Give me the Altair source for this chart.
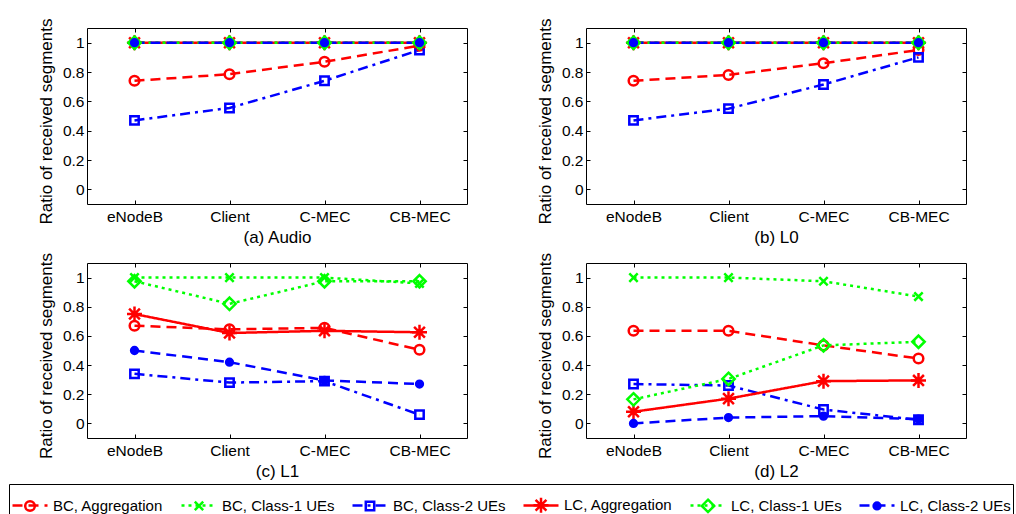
import altair as alt
import pandas as pd

categories = ["eNodeB", "Client", "C-MEC", "CB-MEC"]
series_names = ["BC, Aggregation", "BC, Class-1 UEs", "BC, Class-2 UEs",
                "LC, Aggregation", "LC, Class-1 UEs", "LC, Class-2 UEs"]
panel_titles = ["(a) Audio", "(b) L0", "(c) L1", "(d) L2"]
y_ticks = [0, 0.2, 0.4, 0.6, 0.8, 1]

# (a) Audio
audio_bc_agg = [0.74, 0.785, 0.87, 0.98]
audio_bc_c1 = [1.0, 1.0, 1.0, 1.0]
audio_bc_c2 = [0.47, 0.555, 0.74, 0.95]
audio_lc_agg = [1.0, 1.0, 1.0, 1.0]
audio_lc_c1 = [1.0, 1.0, 1.0, 1.0]
audio_lc_c2 = [1.0, 1.0, 1.0, 1.0]
# (b) L0
l0_bc_agg = [0.74, 0.78, 0.86, 0.95]
l0_bc_c1 = [1.0, 1.0, 1.0, 1.0]
l0_bc_c2 = [0.47, 0.55, 0.715, 0.90]
l0_lc_agg = [1.0, 1.0, 1.0, 1.0]
l0_lc_c1 = [1.0, 1.0, 1.0, 1.0]
l0_lc_c2 = [1.0, 1.0, 1.0, 1.0]
# (c) L1
l1_bc_agg = [0.67, 0.645, 0.655, 0.505]
l1_bc_c1 = [1.0, 1.0, 1.0, 0.96]
l1_bc_c2 = [0.34, 0.28, 0.29, 0.06]
l1_lc_agg = [0.75, 0.62, 0.635, 0.625]
l1_lc_c1 = [0.975, 0.82, 0.975, 0.975]
l1_lc_c2 = [0.50, 0.42, 0.295, 0.27]
# (d) L2
l2_bc_agg = [0.635, 0.635, 0.535, 0.445]
l2_bc_c1 = [1.0, 1.0, 0.975, 0.87]
l2_bc_c2 = [0.27, 0.26, 0.095, 0.025]
l2_lc_agg = [0.08, 0.17, 0.29, 0.295]
l2_lc_c1 = [0.165, 0.305, 0.535, 0.56]
l2_lc_c2 = [0.0, 0.04, 0.05, 0.03]

panel_series = {
    "(a) Audio": [audio_bc_agg, audio_bc_c1, audio_bc_c2, audio_lc_agg, audio_lc_c1, audio_lc_c2],
    "(b) L0": [l0_bc_agg, l0_bc_c1, l0_bc_c2, l0_lc_agg, l0_lc_c1, l0_lc_c2],
    "(c) L1": [l1_bc_agg, l1_bc_c1, l1_bc_c2, l1_lc_agg, l1_lc_c1, l1_lc_c2],
    "(d) L2": [l2_bc_agg, l2_bc_c1, l2_bc_c2, l2_lc_agg, l2_lc_c1, l2_lc_c2],
}

rows = []
for title in panel_titles:
    for s, vals in zip(series_names, panel_series[title]):
        for c, v in zip(categories, vals):
            rows.append({"panel": title, "series": s, "series2": s, "cat": c, "value": v})
df = pd.DataFrame(rows)

# ---- styles ----
FONT = "Liberation Sans"
colors = ["#ff0000", "#00ff00", "#0000ff", "#ff0000", "#00ff00", "#0000ff"]
dashes = [[10, 6], [3, 4], [10, 5, 3, 5], [1, 0], [3, 4], [10, 6]]
fills = ["transparent", "transparent", "transparent", "transparent", "transparent", "#0000ff"]

SYM = 1225  # symbol size -> unit = 17.5 px
K = 17.5


def f(v):
    return f"{v / K:.4f}"


BOX = "M-1,0M1,0M0,-0.35M0,0.35"


def circle(r):
    return (BOX + f"M{f(-r)},0A{f(r)},{f(r)} 0 1,1 {f(r)},0"
            f"A{f(r)},{f(r)} 0 1,1 {f(-r)},0Z")


def square(h):
    return BOX + f"M{f(-h)},{f(-h)}L{f(h)},{f(-h)}L{f(h)},{f(h)}L{f(-h)},{f(h)}Z"


def xmark(a):
    return BOX + f"M{f(-a)},{f(-a)}L{f(a)},{f(a)}M{f(a)},{f(-a)}L{f(-a)},{f(a)}"


def asterisk(a):
    d = a * 0.72
    return (BOX + f"M0,{f(-a)}L0,{f(a)}M{f(-a)},0L{f(a)},0"
            f"M{f(-d)},{f(-d)}L{f(d)},{f(d)}M{f(d)},{f(-d)}L{f(-d)},{f(d)}")


def diamond(h):
    return BOX + f"M0,{f(-h)}L{f(h)},0L0,{f(h)}L{f(-h)},0Z"


shapes = [circle(4.8), xmark(4.2), square(4.2), asterisk(7.5), diamond(6.2), circle(3.4)]
line_symbol = "M-1,0L1,0M0,-0.35M0,0.35"

LEG_X = -78
LEG_Y = 456
LEG_FS = 15
LEG_COLPAD = 12

line_legend = alt.Legend(
    title=None, orient="none", legendX=LEG_X, legendY=LEG_Y, direction="horizontal",
    symbolType=line_symbol, symbolSize=SYM, symbolStrokeWidth=2.5,
    labelFont=FONT, labelFontSize=LEG_FS, labelColor="black", labelOpacity=0,
    labelOffset=4, columnPadding=LEG_COLPAD, padding=2, strokeColor="black", labelLimit=400,
)
point_legend = alt.Legend(
    title=None, orient="none", legendX=LEG_X, legendY=LEG_Y, direction="horizontal",
    symbolSize=SYM, symbolStrokeWidth=2.5,
    labelFont=FONT, labelFontSize=LEG_FS, labelColor="black",
    labelOffset=4, columnPadding=LEG_COLPAD, padding=2, labelLimit=400,
)

xsc = alt.Scale(type="point", padding=0.5, domain=categories)
ysc = alt.Scale(domain=[-0.1, 1.1], nice=False, zero=False)


def make_panel(title, h):
    base = alt.Chart(df).transform_filter(alt.datum.panel == title)
    lines = base.mark_line(strokeWidth=2.5).encode(
        x=alt.X("cat:N", scale=xsc, sort=categories,
                axis=alt.Axis(title=title, labelAngle=0, tickSize=4, offset=-4,
                              labelPadding=5, titlePadding=5)),
        y=alt.Y("value:Q", scale=ysc,
                axis=alt.Axis(title="Ratio of received segments", values=y_ticks,
                              format=".1~f", tickSize=4, offset=-4,
                              labelPadding=3, titlePadding=7, titleY=h / 2 + 5)),
        color=alt.Color("series:N", scale=alt.Scale(domain=series_names, range=colors),
                        legend=line_legend),
        strokeDash=alt.StrokeDash("series:N", scale=alt.Scale(domain=series_names, range=dashes),
                                  legend=line_legend),
    )
    # point scales use the data (alphabetical) domain, which equals series_names order
    points = base.mark_point(size=SYM, strokeWidth=2.5, opacity=1).encode(
        x=alt.X("cat:N", scale=xsc, sort=categories, axis=None),
        y=alt.Y("value:Q", scale=ysc, axis=None),
        shape=alt.Shape("series2:N", scale=alt.Scale(range=shapes), legend=point_legend),
        stroke=alt.Stroke("series2:N", scale=alt.Scale(range=colors), legend=point_legend),
        fill=alt.Fill("series2:N", scale=alt.Scale(range=fills), legend=point_legend),
    )
    frame = base.mark_point(opacity=0).encode(
        x=alt.X("cat:N", scale=xsc, sort=categories,
                axis=alt.Axis(orient="top", labels=False, title=None, tickSize=4, offset=-4)),
        y=alt.Y("value:Q", scale=ysc,
                axis=alt.Axis(orient="right", labels=False, title=None, values=y_ticks,
                              tickSize=4, offset=-4)),
    )
    return (alt.layer(lines, points, frame)
            .resolve_axis(x="independent", y="independent")
            .properties(width=380, height=h))


row1 = alt.hconcat(make_panel("(a) Audio", 176), make_panel("(b) L0", 176), spacing=67)
row2 = alt.hconcat(make_panel("(c) L1", 175), make_panel("(d) L2", 175), spacing=67)

chart = (
    alt.vconcat(row1, row2, spacing=6)
    .properties(padding={"left": 8, "top": 17, "right": 0, "bottom": 0}, background="white")
    .configure_view(stroke="black", strokeWidth=1)
    .configure_axis(labelFont=FONT, titleFont=FONT, labelFontSize=15.5, titleFontSize=17,
                    labelColor="black", titleColor="black", tickColor="black",
                    titleFontWeight="normal", grid=False, domain=False, tickWidth=1)
)

chart.save("out.html", embed_options={"renderer": "svg", "actions": False})
